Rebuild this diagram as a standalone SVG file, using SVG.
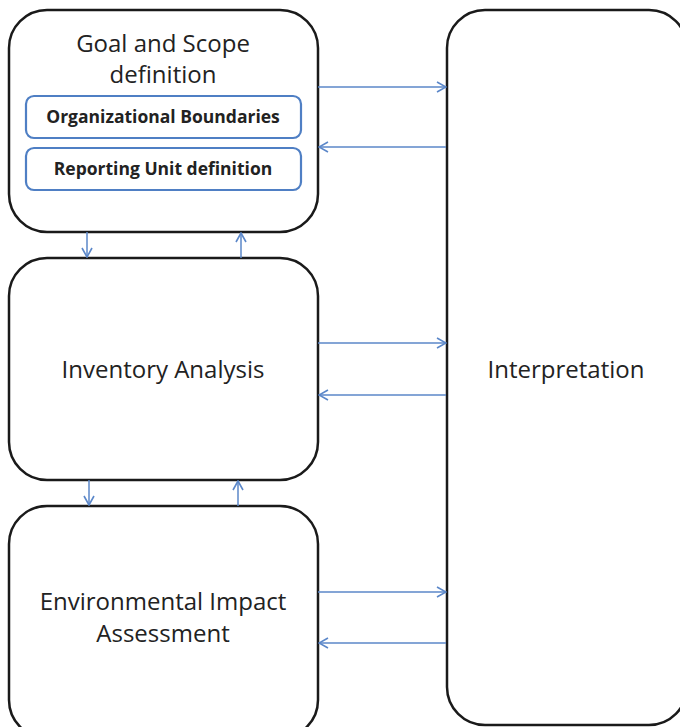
<svg xmlns="http://www.w3.org/2000/svg" width="680" height="727" viewBox="0 0 680 727">
  <defs>
    <marker id="head" viewBox="0 0 12 12" refX="11" refY="6" markerWidth="12" markerHeight="12" markerUnits="userSpaceOnUse" orient="auto">
      <path d="M2,1 L11,6 L2,11" fill="none" stroke="#5b87c9" stroke-width="1.6"/>
    </marker>
  </defs>
  <style>
    .box { fill: #ffffff; stroke: #1a1a1a; stroke-width: 2.5; }
    .sub { fill: #ffffff; stroke: #4f7fc4; stroke-width: 2.2; }
    .big { font-family: "Open Sans", "Liberation Sans", sans-serif; font-size: 24px; fill: #222222; text-anchor: middle; }
    .small { font-family: "Open Sans", "Liberation Sans", sans-serif; font-size: 17.5px; font-weight: bold; fill: #222222; text-anchor: middle; }
    .link { stroke: #5b87c9; stroke-width: 1.5; fill: none; marker-end: url(#head); }
  </style>
  <rect width="680" height="727" fill="#ffffff"/>

  <g id="goal">
    <rect class="box" x="9" y="10" width="309" height="222" rx="38"/>
    <text class="big" x="163" y="52">Goal and Scope</text>
    <text class="big" x="163" y="83">definition</text>
    <g id="org-boundaries">
      <rect class="sub" x="26" y="96" width="275" height="42" rx="8"/>
      <text class="small" x="163" y="123">Organizational Boundaries</text>
    </g>
    <g id="reporting-unit">
      <rect class="sub" x="26" y="148" width="275" height="42" rx="8"/>
      <text class="small" x="163" y="175">Reporting Unit definition</text>
    </g>
  </g>

  <g id="inventory">
    <rect class="box" x="9" y="258" width="309" height="222" rx="38"/>
    <text class="big" x="163" y="378">Inventory Analysis</text>
  </g>

  <g id="impact">
    <rect class="box" x="9" y="506" width="309" height="232" rx="38"/>
    <text class="big" x="163" y="610">Environmental Impact</text>
    <text class="big" x="163" y="642">Assessment</text>
  </g>

  <g id="interpretation">
    <rect class="box" x="447" y="10" width="240" height="715" rx="38"/>
    <text class="big" x="566" y="378">Interpretation</text>
  </g>

  <g id="connectors">
    <line class="link" x1="318" y1="87" x2="446" y2="87"/>
    <line class="link" x1="446" y1="147" x2="319" y2="147"/>
    <line class="link" x1="318" y1="343" x2="446" y2="343"/>
    <line class="link" x1="446" y1="395" x2="319" y2="395"/>
    <line class="link" x1="318" y1="592" x2="446" y2="592"/>
    <line class="link" x1="446" y1="643" x2="319" y2="643"/>
    <line class="link" x1="87" y1="232" x2="87" y2="257"/>
    <line class="link" x1="241" y1="258" x2="241" y2="233"/>
    <line class="link" x1="89" y1="480" x2="89" y2="505"/>
    <line class="link" x1="238" y1="506" x2="238" y2="481"/>
  </g>
</svg>
